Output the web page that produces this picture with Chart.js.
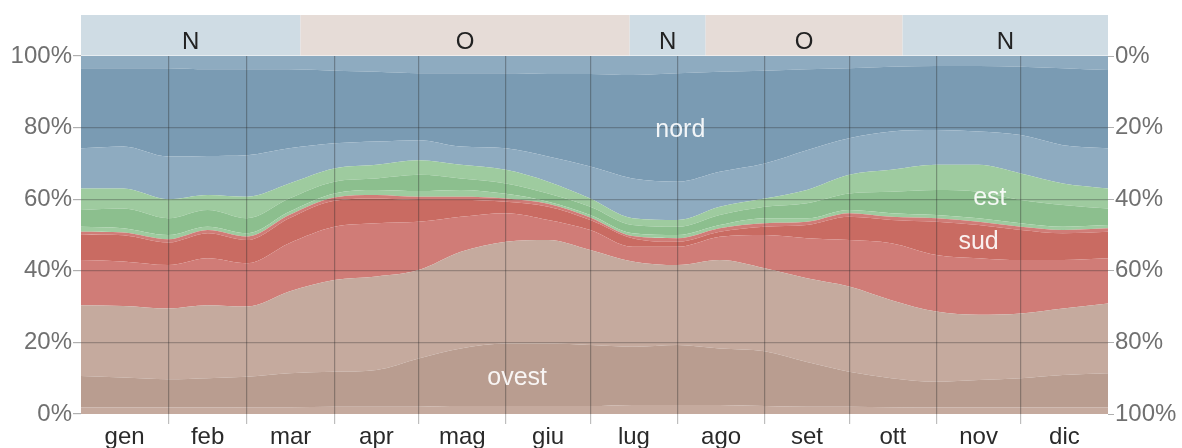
<!DOCTYPE html>
<html>
<head>
<meta charset="utf-8">
<script src="https://cdn.jsdelivr.net/npm/chart.js@4.4.1/dist/chart.umd.min.js"></script>
<style>
  body { margin: 0; background: #fff; }
  #wrap { width: 1182px; height: 448px; }
</style>
</head>
<body>
<div id="wrap"><canvas id="chart"></canvas></div>
<script>
// day of year for each sample
const days = [0, 15, 31, 45, 59, 74, 90, 105, 120, 135, 151, 166, 181, 196, 212, 227, 243, 258, 273, 288, 304, 319, 334, 349, 365];

const months = ['gen', 'feb', 'mar', 'apr', 'mag', 'giu', 'lug', 'ago', 'set', 'ott', 'nov', 'dic'];
const monthStarts = [0, 31, 59, 90, 120, 151, 181, 212, 243, 273, 304, 334, 365];
const monthMids = [15.5, 45, 74.5, 105, 135.5, 166, 196.5, 227.5, 258, 288.5, 319, 349.5];

// top edge of each band (cumulative % of hours), bottom to top
const ovestNW = [1.8, 1.8, 1.8, 1.8, 1.9, 1.9, 2.0, 2.0, 2.0, 2.2, 2.2, 2.2, 2.2, 2.5, 2.5, 2.5, 2.2, 2.0, 2.0, 1.9, 1.8, 1.8, 1.8, 1.8, 1.8];
const ovestW  = [10.6, 10.2, 9.7, 10.0, 10.4, 11.4, 11.8, 12.3, 15.5, 18.3, 19.7, 19.7, 19.3, 18.8, 19.3, 18.3, 17.5, 14.5, 11.8, 10.0, 9.0, 9.5, 10.0, 10.9, 11.4];
const ovestSW = [30.4, 30.2, 29.5, 30.4, 30.0, 34.2, 37.4, 38.4, 40.2, 45.3, 48.1, 48.6, 45.8, 42.6, 41.6, 43.0, 40.7, 37.9, 35.6, 31.8, 28.6, 27.7, 28.1, 29.5, 30.9];
const sudSW   = [43.0, 42.6, 41.6, 43.5, 42.1, 47.7, 52.3, 53.3, 53.7, 55.1, 56.1, 54.2, 51.4, 46.7, 46.7, 49.5, 50.0, 49.1, 48.6, 47.7, 44.4, 43.5, 43.0, 43.0, 43.5];
const sudS    = [50.2, 49.9, 47.9, 50.5, 48.6, 54.7, 59.6, 60.2, 59.8, 59.8, 59.3, 57.9, 54.2, 49.1, 48.1, 50.9, 52.3, 52.8, 55.1, 54.2, 53.7, 52.8, 51.4, 50.5, 50.9];
const sudSE   = [50.9, 50.7, 48.8, 51.4, 49.6, 55.6, 60.5, 61.2, 60.7, 60.7, 60.2, 58.7, 54.9, 49.7, 49.1, 51.9, 53.3, 53.7, 56.1, 55.1, 54.7, 53.7, 52.3, 51.4, 51.9];
const estSE   = [52.3, 51.9, 50.0, 52.3, 50.5, 56.5, 61.6, 62.6, 62.3, 62.6, 61.5, 59.3, 55.6, 50.5, 50.0, 52.8, 54.7, 54.7, 57.0, 56.1, 55.6, 54.7, 53.3, 52.3, 52.8];
const estE    = [57.0, 57.4, 54.7, 57.0, 54.7, 60.2, 64.9, 65.8, 66.8, 65.8, 64.4, 61.6, 57.9, 52.8, 52.3, 55.6, 57.9, 58.9, 61.6, 62.1, 62.6, 62.1, 59.8, 58.4, 57.4];
const estNE   = [63.0, 63.0, 60.0, 61.2, 60.7, 64.4, 68.6, 69.6, 70.9, 69.6, 68.2, 64.9, 60.2, 54.7, 54.2, 57.9, 60.2, 62.6, 66.8, 68.2, 69.6, 69.6, 67.2, 64.4, 63.0];
const nordNE  = [74.2, 74.7, 71.9, 72.1, 72.3, 74.2, 75.6, 76.1, 76.5, 74.7, 74.2, 71.9, 69.1, 65.8, 64.9, 67.7, 70.0, 73.7, 77.0, 78.9, 79.3, 78.9, 77.9, 75.1, 74.2];
const nordN   = [96.6, 96.6, 96.6, 96.3, 96.3, 96.3, 95.9, 95.6, 95.2, 95.2, 95.2, 95.0, 95.0, 94.7, 95.2, 95.6, 95.9, 96.3, 96.6, 97.0, 97.2, 97.2, 97.0, 96.6, 96.1];

// prevailing direction band on top
const bandStart = [0, 78, 195, 222, 292];
const bandEnd = [78, 195, 222, 292, 365];
const bandLabels = ['N', 'O', 'N', 'O', 'N'];

// in-chart labels
const dirLabels = ['nord', 'est', 'sud', 'ovest'];
const dirDay = [213, 323, 319, 155];
const dirPct = [77.4, 58.4, 46.0, 8.1];

const brownLight = '#c5aa9e', brownDark = '#b99d90';
const redLight = '#d07c77', redDark = '#c96b62';
const greenLight = '#9ecb9f', greenDark = '#8cbf8e';
const blueLight = '#8eabc0', blueDark = '#7a9bb3';

const layers = [
  [ovestNW, brownLight], [ovestW, brownDark], [ovestSW, brownLight],
  [sudSW, redLight], [sudS, redDark], [sudSE, redLight],
  [estSE, greenLight], [estE, greenDark], [estNE, greenLight],
  [nordNE, blueLight], [nordN, blueDark]
];

const toPoints = vals => days.map((d, i) => ({ x: d, y: vals[i] }));

const datasets = layers.map((l, i) => ({
  data: toPoints(l[0]),
  fill: i === 0 ? 'origin' : '-1',
  backgroundColor: l[1],
  borderWidth: 0,
  pointRadius: 0,
  cubicInterpolationMode: 'monotone'
}));
// light NW strip from the last edge up to 100%
datasets.push({
  data: toPoints(nordN),
  fill: 'end',
  backgroundColor: blueLight,
  borderWidth: 0,
  pointRadius: 0,
  cubicInterpolationMode: 'monotone'
});

const font = 'Liberation Sans, Arial, sans-serif';

const overlay = {
  id: 'overlay',
  afterDraw(chart) {
    const { ctx, chartArea, scales: { x, y } } = chart;
    ctx.save();
    ctx.textAlign = 'center';
    ctx.textBaseline = 'alphabetic';
    for (let i = 0; i < bandLabels.length; i++) {
      const x0 = x.getPixelForValue(bandStart[i]);
      const x1 = x.getPixelForValue(bandEnd[i]);
      ctx.fillStyle = bandLabels[i] === 'N' ? '#cfdce4' : '#e6dcd7';
      ctx.fillRect(x0, chartArea.top - 41, x1 - x0, 40.5);
      ctx.fillStyle = '#222';
      ctx.font = '24px ' + font;
      ctx.fillText(bandLabels[i], (x0 + x1) / 2, chartArea.top - 7.5);
    }
    ctx.fillStyle = 'rgba(255,255,255,0.9)';
    ctx.font = '25px ' + font;
    for (let i = 0; i < dirLabels.length; i++) {
      ctx.fillText(dirLabels[i], x.getPixelForValue(dirDay[i]), y.getPixelForValue(dirPct[i]));
    }
    ctx.restore();
  }
};

const pctTicks = {
  stepSize: 20,
  color: '#707070',
  padding: 1,
  font: { size: 24, family: font },
  callback: v => v + '%'
};

const isInnerMonth = v => monthStarts.includes(v) && v > 0 && v < 365;

new Chart(document.getElementById('chart'), {
  type: 'line',
  data: { datasets },
  options: {
    responsive: true,
    maintainAspectRatio: false,
    animation: false,
    layout: { padding: { top: 56, left: 0, right: 0, bottom: 0 } },
    plugins: { legend: { display: false }, tooltip: { enabled: false } },
    scales: {
      x: {
        type: 'linear',
        min: 0,
        max: 365,
        afterBuildTicks: s => { s.ticks = monthStarts.concat(monthMids).sort((a, b) => a - b).map(v => ({ value: v })); },
        afterFit: s => { s.height = 34; },
        border: { display: false },
        grid: {
          z: 1,
          tickLength: 10,
          lineWidth: 1.2,
          color: c => isInnerMonth(c.tick.value) ? 'rgba(40,40,40,0.35)' : 'rgba(0,0,0,0)',
          tickColor: c => isInnerMonth(c.tick.value) ? 'rgba(40,40,40,0.3)' : 'rgba(0,0,0,0)'
        },
        ticks: {
          autoSkip: false,
          maxRotation: 0,
          padding: -1,
          color: '#2a2a2a',
          font: { size: 24, family: font },
          callback: v => { const i = monthMids.indexOf(v); return i >= 0 ? months[i] : ''; }
        }
      },
      y: {
        min: 0,
        max: 100,
        position: 'left',
        afterFit: s => { s.width = 81; },
        border: { display: false },
        grid: {
          z: 1,
          tickLength: 8,
          lineWidth: 1.2,
          color: c => (c.tick.value === 0 || c.tick.value === 100) ? 'rgba(0,0,0,0)' : 'rgba(40,40,40,0.3)',
          tickColor: '#b0b0b0'
        },
        ticks: pctTicks
      },
      y2: {
        min: 0,
        max: 100,
        reverse: true,
        position: 'right',
        afterFit: s => { s.width = 74; },
        border: { display: false },
        grid: { drawOnChartArea: false, tickLength: 6, tickColor: '#b0b0b0' },
        ticks: pctTicks
      }
    }
  },
  plugins: [overlay]
});
</script>
</body>
</html>
